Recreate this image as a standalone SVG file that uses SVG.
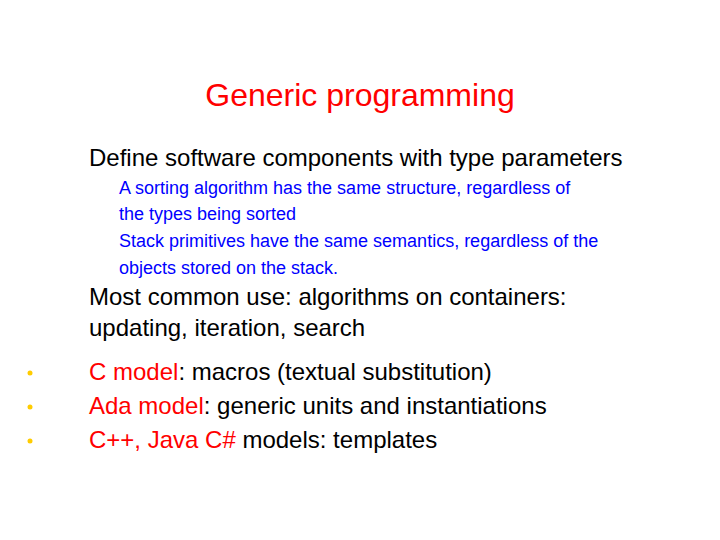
<svg xmlns="http://www.w3.org/2000/svg" width="720" height="540" viewBox="0 0 720 540">
<style>
text{font-family:"Liberation Sans",Arial,sans-serif}
.m{font-size:24px;fill:#000}
.s{font-size:18px;fill:#0000ff}
.r{fill:#ff0000}
.b{fill:#ffcc00}
</style>
<rect width="720" height="540" fill="#fff"/>
<text x="360" y="106" text-anchor="middle" font-size="32" fill="#ff0000">Generic programming</text>
<text class="m" x="89" y="166">Define software components with type parameters</text>
<text class="s" x="119" y="194">A sorting algorithm has the same structure, regardless of</text>
<text class="s" x="119" y="220">the types being sorted</text>
<text class="s" x="119" y="247">Stack primitives have the same semantics, regardless of the</text>
<text class="s" x="119" y="274">objects stored on the stack.</text>
<text class="m" x="89" y="305">Most common use: algorithms on containers:</text>
<text class="m" x="89" y="336">updating, iteration, search</text>
<circle class="b" cx="30" cy="373" r="2.5"/>
<circle class="b" cx="30" cy="407" r="2.5"/>
<circle class="b" cx="30" cy="441" r="2.5"/>
<text class="m" x="89" y="380"><tspan class="r">C model</tspan>: macros (textual substitution)</text>
<text class="m" x="89" y="414"><tspan class="r">Ada model</tspan>: generic units and instantiations</text>
<text class="m" x="89" y="448"><tspan class="r">C++, Java C#</tspan> models: templates</text>
</svg>
